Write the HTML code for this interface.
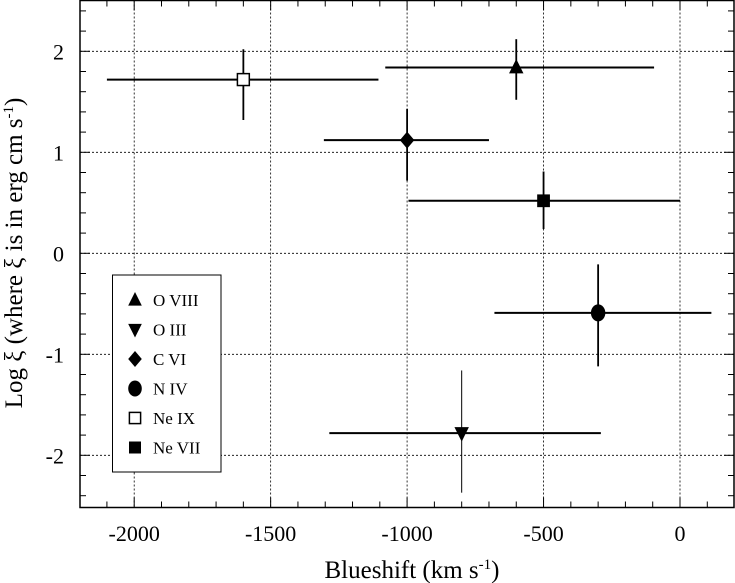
<!DOCTYPE html>
<html><head><meta charset="utf-8"><style>
html,body{margin:0;padding:0;background:#fff;}
svg{display:block;}
text{font-family:"Liberation Serif","DejaVu Serif",serif;}
</style></head><body>
<svg id="chart" width="735" height="583" viewBox="0 0 735 583" xmlns="http://www.w3.org/2000/svg">
<g id="grid"></g>
<g id="ticks"></g>
<rect x="80" y="0.5" width="654" height="507" fill="none" stroke="#000" stroke-width="1.5"/>
<g id="series"></g>
<text x="412" y="578" text-anchor="middle" font-size="25">Blueshift (km s<tspan dy="-9" font-size="15">-1</tspan><tspan dy="9">)</tspan></text>
<text transform="translate(22,253) rotate(-90)" text-anchor="middle" font-size="25">Log ξ (where ξ is in erg cm s<tspan dy="-9" font-size="15">-1</tspan><tspan dy="9">)</tspan></text>
<g id="legend">
<rect x="112.5" y="275" width="108.5" height="197" fill="#fff" stroke="#000" stroke-width="1"/>
</g>
</svg>
<script>
const ions = ["O VIII","O III","C VI","N IV","Ne IX","Ne VII"];
const markers = ["tri-up","tri-down","diamond","circle","square-open","square"];
const xVals = [-600,-800,-1000,-300,-1600,-500];
const xLo = [-1080,-1285,-1305,-680,-2100,-995];
const xHi = [-95,-290,-700,115,-1105,0];
const yVals = [1.84,-1.78,1.12,-0.59,1.72,0.52];
const yLo = [1.52,-2.37,0.72,-1.12,1.32,0.24];
const yHi = [2.12,-1.16,1.43,-0.11,2.02,0.81];
const xTicks = [-2000,-1500,-1000,-500,0];
const xTickLabels = ["-2000","-1500","-1000","-500","0"];
const yTicks = [-2,-1,0,1,2];
const yTickLabels = ["-2","-1","0","1","2"];

const NS="http://www.w3.org/2000/svg";
const X0=80,X1=734,Y0=0.5,Y1=507.5;
function xs(v){return 680+v*0.2729;}
function ys(v){return 253.3-v*101;}
function mk(tag,attrs,parent){const e=document.createElementNS(NS,tag);for(const k in attrs)e.setAttribute(k,attrs[k]);parent.appendChild(e);return e;}
const grid=document.getElementById('grid'),ticks=document.getElementById('ticks'),ser=document.getElementById('series'),leg=document.getElementById('legend');

xTicks.forEach((v,i)=>{
  const g=mk('line',{x1:xs(v),x2:xs(v),y1:Y0,y2:Y1,stroke:'#000','stroke-width':0.8,'stroke-dasharray':'2,2'},grid);
  
  
  const t=mk('text',{x:xs(v),y:541,'text-anchor':'middle','font-size':22},ticks);
  t.textContent=xTickLabels[i];
  
  
});
yTicks.forEach((v,i)=>{
  const g=mk('line',{x1:X0,x2:X1,y1:ys(v),y2:ys(v),stroke:'#000','stroke-width':0.8,'stroke-dasharray':'2,2'},grid);
  
  
  const t=mk('text',{x:64,y:ys(v)+8,'text-anchor':'end','font-size':22},ticks);
  t.textContent=yTickLabels[i];
  
  
});
for(let v=-2100;v<=200;v+=100){
  const x=xs(v); if(x<X0||x>X1)continue;
  const L=(v%500===0)?10:6;
  const a=mk('line',{x1:x,x2:x,y1:Y1,y2:Y1-L,stroke:'#000','stroke-width':1},ticks);
  
  
  const b=mk('line',{x1:x,x2:x,y1:Y0,y2:Y0+L,stroke:'#000','stroke-width':1},ticks);
  
  
}
for(let k=-12;k<=12;k++){
  const v=k*0.2,y=ys(v); if(y<Y0||y>Y1)continue;
  const L=(k%5===0)?10:6;
  const a=mk('line',{x1:X0,x2:X0+L,y1:y,y2:y,stroke:'#000','stroke-width':1},ticks);
  
  
  const b=mk('line',{x1:X1,x2:X1-L,y1:y,y2:y,stroke:'#000','stroke-width':1},ticks);
  
  
}
function marker(type,cx,cy,s,parent){
  let e;
  if(type==='tri-up')e=mk('polygon',{points:`${cx},${cy-s} ${cx-s*0.85},${cy+s*0.7} ${cx+s*0.85},${cy+s*0.7}`,fill:'#000'},parent);
  else if(type==='tri-down')e=mk('polygon',{points:`${cx},${cy+s} ${cx-s*0.85},${cy-s*0.7} ${cx+s*0.85},${cy-s*0.7}`,fill:'#000'},parent);
  else if(type==='diamond')e=mk('polygon',{points:`${cx},${cy-s} ${cx+s*0.85},${cy} ${cx},${cy+s} ${cx-s*0.85},${cy}`,fill:'#000'},parent);
  else if(type==='circle')e=mk('ellipse',{cx:cx,cy:cy,rx:s*0.85,ry:s,fill:'#000'},parent);
  else if(type==='square-open')e=mk('rect',{x:cx-s*0.7,y:cy-s*0.7,width:s*1.4,height:s*1.4,fill:'#fff',stroke:'#000','stroke-width':1.5},parent);
  else e=mk('rect',{x:cx-s*0.75,y:cy-s*0.75,width:s*1.5,height:s*1.5,fill:'#000'},parent);
  return e;
}
ions.forEach((n,i)=>{
  const slug=n.toLowerCase().replace(/\s+/g,'-');
  const h=mk('line',{x1:xs(xLo[i]),x2:xs(xHi[i]),y1:ys(yVals[i]),y2:ys(yVals[i]),stroke:'#000','stroke-width':2},ser);
  
  
  const v=mk('line',{x1:xs(xVals[i]),x2:xs(xVals[i]),y1:ys(yLo[i]),y2:ys(yHi[i]),stroke:'#000','stroke-width':i===1?1:1.8},ser);
  
  
  const m=marker(markers[i],xs(xVals[i]),ys(yVals[i]),8.5,ser);
  
  
  const ly=300+i*29.5;
  const lm=marker(markers[i],135,ly,8,leg);
  
  
  const lt=mk('text',{x:153,y:ly+6,'font-size':17},leg);
  lt.textContent=n;
  
  
});
</script>
</body></html>
